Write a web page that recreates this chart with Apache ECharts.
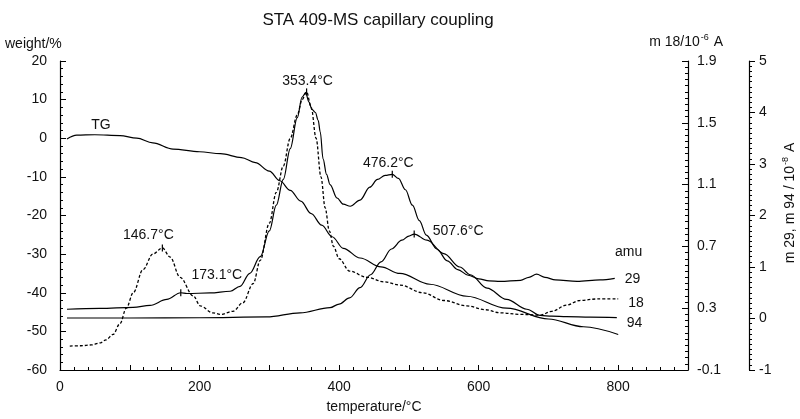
<!DOCTYPE html>
<html>
<head>
<meta charset="utf-8">
<script src="https://cdn.jsdelivr.net/npm/echarts@6/dist/echarts.min.js"></script>
<style>html,body{margin:0;padding:0;background:#fff}#c{width:800px;height:419px}</style>
</head>
<body>
<div id="c"></div>
<script>
// ---- data (temperature in °C) ----
var tgT = [10,24,50,86,110,133,162,200,230,260,280,300,315,330,345,360,375,390,406,430,460,487,530,583,640,700,750,800];
var tgW = [-0.2,0.8,0.9,0.7,0.05,-1.2,-2.8,-3.5,-4.0,-5,-6.3,-8.5,-11,-13.5,-16.3,-19.5,-22.5,-25.5,-28.5,-31,-33.3,-35,-37.8,-40.9,-44,-46.8,-48.8,-50.8];

var m18T = [14,30,45,57,66,76,86,95,105,119,133,146.7,158,172,191,201,219,230,248,262,277,287,300,310,320,330,340,347,353.4,360,367,374,380,386,392,400,415,440,465,487,520,550,583,610,631,660,688,705,726,745,770,800];
var m18V = [0.055,0.057,0.062,0.075,0.095,0.13,0.2,0.3,0.4,0.55,0.65,0.69,0.63,0.5,0.38,0.315,0.27,0.26,0.28,0.335,0.46,0.61,0.85,1.05,1.22,1.4,1.55,1.65,1.70,1.6,1.4,1.15,0.95,0.8,0.7,0.62,0.54,0.5,0.47,0.45,0.40,0.35,0.315,0.29,0.27,0.26,0.255,0.28,0.32,0.35,0.36,0.36];

var m29T = [10,57,105,129,153,173.1,182,215,244,258,272,287,300,310,320,330,340,347,352,357,361,366,370,373,377,382,387,397,406,416,430,444,455,466,476.2,485,495,505,515,525,540,555,570,585,600,615,631,660,672,683,695,710,741,774,795];
var m29V = [0.18,0.195,0.215,0.255,0.37,0.5,0.485,0.496,0.529,0.624,0.878,1.2,1.7,2.2,2.7,3.3,3.9,4.3,4.38,4.2,4.06,4.0,3.85,3.62,3.1,2.8,2.6,2.34,2.22,2.18,2.3,2.55,2.7,2.78,2.8,2.72,2.5,2.2,1.9,1.62,1.35,1.12,0.95,0.84,0.77,0.73,0.72,0.74,0.8,0.86,0.8,0.75,0.72,0.75,0.78];

var m94T = [10,100,200,296,344,387,400,415,430,445,460,475,490,500,507.6,526,550,573,588,612,640,669,688,705,726,760,798];
var m94V = [0.01,0.01,0.015,0.03,0.11,0.21,0.28,0.4,0.6,0.85,1.1,1.35,1.52,1.6,1.64,1.52,1.26,1.0,0.85,0.59,0.37,0.18,0.06,0.045,0.037,0.025,0.018];

// peak annotations
var peaks18 = [[146.7, 0.69, '146.7°C'], [353.4, 1.70, '353.4°C']];
var peaks29 = [[173.1, 0.50, '173.1°C'], [476.2, 2.80, '476.2°C']];
var peaks94 = [[507.6, 1.64, '507.6°C']];

var xLabels = [0, 200, 400, 600, 800];

function zip(a, b) { return a.map(function (v, i) { return [v, b[i]]; }); }

var FONT = 'Liberation Sans';
var INK = '#111';
var chart = echarts.init(document.getElementById('c'), null, {renderer: 'canvas'});

var lineBase = {type: 'line', showSymbol: false, smooth: 0.35, smoothMonotone: 'x', silent: true};

function peakSeries(pts, yIdx, offsets) {
  return {
    type: 'scatter', yAxisIndex: yIdx, symbol: 'rect', symbolSize: [1.2, 7],
    itemStyle: {color: '#000', opacity: 1}, silent: true,
    data: pts.map(function (p, i) {
      return {value: [p[0], p[1]], label: {show: true, formatter: p[2], position: offsets[i].pos, offset: offsets[i].off,
        color: INK, opacity: 1, fontFamily: FONT, fontSize: 14}};
    })
  };
}

var option = {
  animation: false,
  grid: {left: 60, right: 112, top: 61, bottom: 44},
  textStyle: {fontFamily: FONT},
  xAxis: {
    type: 'value', min: 0, max: 900, interval: 100,
    name: 'temperature/°C', nameLocation: 'middle', nameGap: 30,
    nameTextStyle: {fontFamily: FONT, fontSize: 14, color: INK},
    axisLine: {onZero: false, lineStyle: {color: '#000', width: 1.2}},
    axisTick: {inside: true, length: 5, lineStyle: {color: '#000'}},
    minorTick: {show: true, splitNumber: 5, length: 3, lineStyle: {color: '#000'}},
    splitLine: {show: false},
    axisLabel: {margin: 10, fontSize: 14, color: INK, fontFamily: FONT,
      formatter: function (v) { return xLabels.indexOf(v) >= 0 ? String(v) : ''; }}
  },
  yAxis: [
    {
      type: 'value', min: -60, max: 20, interval: 10, position: 'left',
      axisLine: {show: true, onZero: false, lineStyle: {color: '#000', width: 1.2}},
      axisTick: {show: true, inside: true, length: 6, lineStyle: {color: '#000'}},
      minorTick: {show: true, splitNumber: 5, length: 3, lineStyle: {color: '#000'}},
      splitLine: {show: false},
      axisLabel: {margin: 13, fontSize: 14, color: INK, fontFamily: FONT}
    },
    {
      type: 'value', min: -0.1, max: 1.9, interval: 0.4, position: 'right',
      axisLine: {show: true, onZero: false, lineStyle: {color: '#000', width: 1.2}},
      axisTick: {show: true, inside: true, length: 6, lineStyle: {color: '#000'}},
      minorTick: {show: true, splitNumber: 10, length: 3, lineStyle: {color: '#000'}},
      splitLine: {show: false},
      axisLabel: {margin: 9, fontSize: 14, color: INK, fontFamily: FONT,
        formatter: function (v) { return v.toFixed(1); }}
    },
    {
      type: 'value', min: -1, max: 5, interval: 1, position: 'right', offset: 61,
      axisLine: {show: true, onZero: false, lineStyle: {color: '#000', width: 1.2}},
      axisTick: {show: true, inside: false, length: 6, lineStyle: {color: '#000'}},
      minorTick: {show: true, splitNumber: 10, length: 3, lineStyle: {color: '#000'}},
      splitLine: {show: false},
      axisLabel: {margin: 10, fontSize: 14, color: INK, fontFamily: FONT}
    }
  ],
  series: [
    Object.assign({}, lineBase, {name: 'TG', yAxisIndex: 0, data: zip(tgT, tgW),
      lineStyle: {color: '#000', width: 1.2}}),
    Object.assign({}, lineBase, {name: '18', yAxisIndex: 1, data: zip(m18T, m18V),
      lineStyle: {color: '#000', width: 1.3, type: [3, 2]},
      endLabel: {show: true, formatter: '18', distance: 10, offset: [0, 4], color: INK, fontFamily: FONT, fontSize: 14}}),
    Object.assign({}, lineBase, {name: '29', yAxisIndex: 2, data: zip(m29T, m29V),
      lineStyle: {color: '#000', width: 1.2},
      endLabel: {show: true, formatter: '29', distance: 10, offset: [0, 1], color: INK, fontFamily: FONT, fontSize: 14}}),
    Object.assign({}, lineBase, {name: '94', yAxisIndex: 2, data: zip(m94T, m94V),
      lineStyle: {color: '#000', width: 1.2},
      endLabel: {show: true, formatter: '94', distance: 10, offset: [0, 6], color: INK, fontFamily: FONT, fontSize: 14}}),
    peakSeries(peaks18, 1, [{pos: 'top', off: [-14, 3]}, {pos: 'top', off: [1, 5]}]),
    peakSeries(peaks29, 2, [{pos: 'top', off: [36, -2]}, {pos: 'top', off: [-4, 4]}]),
    peakSeries(peaks94, 2, [{pos: 'right', off: [13, -3]}])
  ],
  graphic: [
    {type: 'text', x: 378, y: 20, style: {text: 'STA 409-MS capillary coupling', fill: INK,
      font: '17px "Liberation Sans"', textAlign: 'center', textVerticalAlign: 'middle'}},
    {type: 'text', x: 5, y: 44, style: {text: 'weight/%', fill: INK,
      font: '14px "Liberation Sans"', textAlign: 'left', textVerticalAlign: 'middle'}},
    {type: 'text', x: 723, y: 42, style: {text: '{a|m 18/10}{s|-6}{a| A}', fill: INK, textAlign: 'right', textVerticalAlign: 'middle',
      rich: {a: {fontFamily: FONT, fontSize: 14, color: INK}, s: {fontFamily: FONT, fontSize: 9, color: INK, padding: [0, 1, 8, 1]}}}},
    {type: 'text', x: 790, y: 203, rotation: Math.PI / 2, style: {text: '{a|m 29, m 94 / 10}{s|-8}{a| A}', fill: INK, textAlign: 'center', textVerticalAlign: 'middle',
      rich: {a: {fontFamily: FONT, fontSize: 14, color: INK}, s: {fontFamily: FONT, fontSize: 9, color: INK, padding: [0, 1, 8, 1]}}}},
    {type: 'text', x: 615, y: 252, style: {text: 'amu', fill: INK,
      font: '14px "Liberation Sans"', textAlign: 'left', textVerticalAlign: 'middle'}},
    {type: 'text', x: 101, y: 125, style: {text: 'TG', fill: INK,
      font: '14px "Liberation Sans"', textAlign: 'center', textVerticalAlign: 'middle'}}
  ]
};
chart.setOption(option);
</script>
</body>
</html>
